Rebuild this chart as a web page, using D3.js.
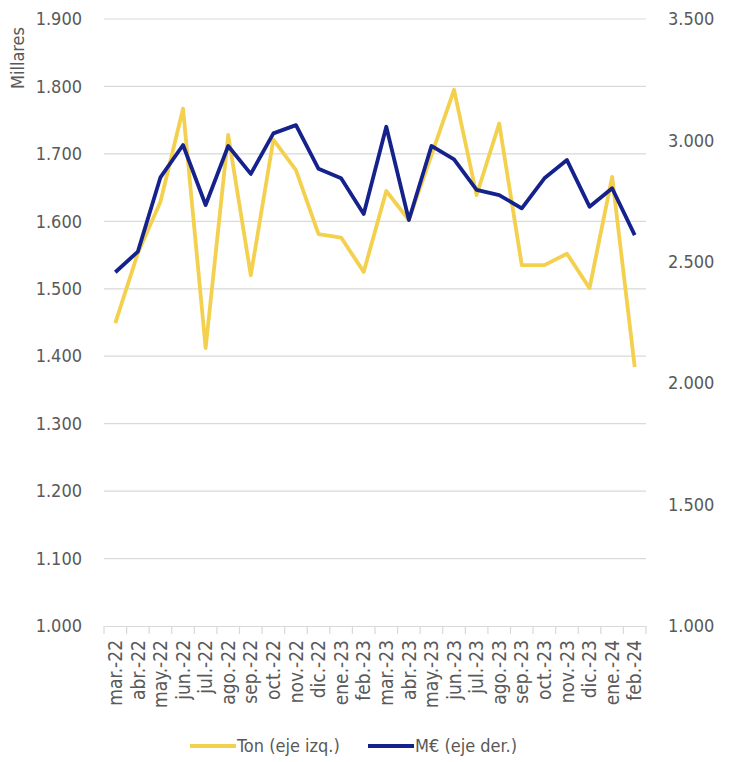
<!DOCTYPE html>
<html>
<head>
<meta charset="utf-8">
<script src="https://cdn.jsdelivr.net/npm/d3@7"></script>
<style>
  body { margin: 0; background: #fff; }
  text { font-family: "DejaVu Sans", sans-serif; font-stretch: condensed; fill: #595959; }
</style>
</head>
<body>
<svg></svg>
<script>
const months = ['mar.-22','abr.-22','may.-22','jun.-22','jul.-22','ago.-22','sep.-22','oct.-22','nov.-22','dic.-22','ene.-23','feb.-23',
  'mar.-23','abr.-23','may.-23','jun.-23','jul.-23','ago.-23','sep.-23','oct.-23','nov.-23','dic.-23','ene.-24','feb.-24']
// Ton (miles), eje izquierdo
const ton = [1449, 1553, 1629, 1767, 1412, 1728, 1520, 1721, 1676, 1581, 1576, 1525,
  1645, 1602, 1698, 1795, 1639, 1745, 1535, 1535, 1552, 1501, 1666, 1384]
// M€, eje derecho
const eur = [2457, 2542, 2848, 2981, 2734, 2977, 2862, 3029, 3063, 2883, 2844, 2697,
  3056, 2672, 2977, 2922, 2796, 2775, 2720, 2844, 2919, 2727, 2803, 2610]
const leftTicks = [1000, 1100, 1200, 1300, 1400, 1500, 1600, 1700, 1800, 1900]
const rightTicks = [1000, 1500, 2000, 2500, 3000, 3500]

const W = 731, H = 762
const svg = d3.select('svg').attr('width', W).attr('height', H)
const fmt = d => d3.format(',.3f')(d / 1000).replace(',', '.')

const x = d3.scaleBand().domain(months).range([104, 646])
const yL = d3.scaleLinear().domain([1000, 1900]).range([626, 19])
const yR = d3.scaleLinear().domain([1000, 3500]).range([626, 19])

// gridlines
svg.append('g').selectAll('line')
    .data(leftTicks.slice(1))
    .enter().append('line')
    .attr('x1', 104).attr('x2', 646)
    .attr('y1', d => yL(d)).attr('y2', d => yL(d))
    .attr('stroke', '#d9d9d9').attr('stroke-width', 1.2)

// left axis
const gl = svg.append('g').attr('transform', 'translate(84,0)')
    .call(d3.axisLeft(yL).tickValues(leftTicks).tickSize(0).tickFormat(fmt))
gl.select('.domain').remove()
gl.selectAll('text').attr('font-size', 18).attr('x', -2)

// right axis
const gr = svg.append('g').attr('transform', 'translate(666,0)')
    .call(d3.axisRight(yR).tickValues(rightTicks).tickSize(0).tickFormat(fmt))
gr.select('.domain').remove()
gr.selectAll('text').attr('font-size', 18).attr('x', 2)

svg.append('text')
    .attr('transform', 'translate(24,58) rotate(-90)')
    .attr('text-anchor', 'middle')
    .attr('font-size', 18)
    .text('Millares')

// x axis
const gx = svg.append('g').attr('transform', 'translate(0,626)')
    .call(d3.axisBottom(x).tickSize(0))
gx.select('.domain').attr('stroke', '#d9d9d9').attr('stroke-width', 1.2)
gx.selectAll('text')
    .attr('font-size', 19)
    .attr('transform', 'rotate(-90)')
    .attr('text-anchor', 'end')
    .attr('dy', '0.35em')
    .attr('x', -14).attr('y', 0)
svg.append('g').selectAll('line')
    .data(d3.range(months.length + 1))
    .enter().append('line')
    .attr('x1', i => 104 + i * x.step()).attr('x2', i => 104 + i * x.step())
    .attr('y1', 626).attr('y2', 634)
    .attr('stroke', '#d9d9d9').attr('stroke-width', 1.2)

const cx = d => x(d) + x.bandwidth() / 2

svg.append('path')
    .datum(ton)
    .attr('fill', 'none')
    .attr('stroke', '#F4D04F')
    .attr('stroke-width', 3.8)
    .attr('stroke-linejoin', 'round')
    .attr('d', d3.line().x((d, i) => cx(months[i])).y(d => yL(d)))

svg.append('path')
    .datum(eur)
    .attr('fill', 'none')
    .attr('stroke', '#15228C')
    .attr('stroke-width', 3.8)
    .attr('stroke-linejoin', 'round')
    .attr('d', d3.line().x((d, i) => cx(months[i])).y(d => yR(d)))

// legend
const legend = [
  { label: 'Ton (eje izq.)', color: '#F4D04F', x: 190 },
  { label: 'M€ (eje der.)', color: '#15228C', x: 368 }
]
const lg = svg.append('g').selectAll('g').data(legend).enter().append('g')
    .attr('transform', d => `translate(${d.x},746)`)
lg.append('line').attr('x1', 0).attr('x2', 46).attr('y1', 0).attr('y2', 0)
    .attr('stroke', d => d.color).attr('stroke-width', 4)
lg.append('text').attr('x', 47).attr('dy', '0.35em').attr('font-size', 18)
    .text(d => d.label)
</script>
</body>
</html>
